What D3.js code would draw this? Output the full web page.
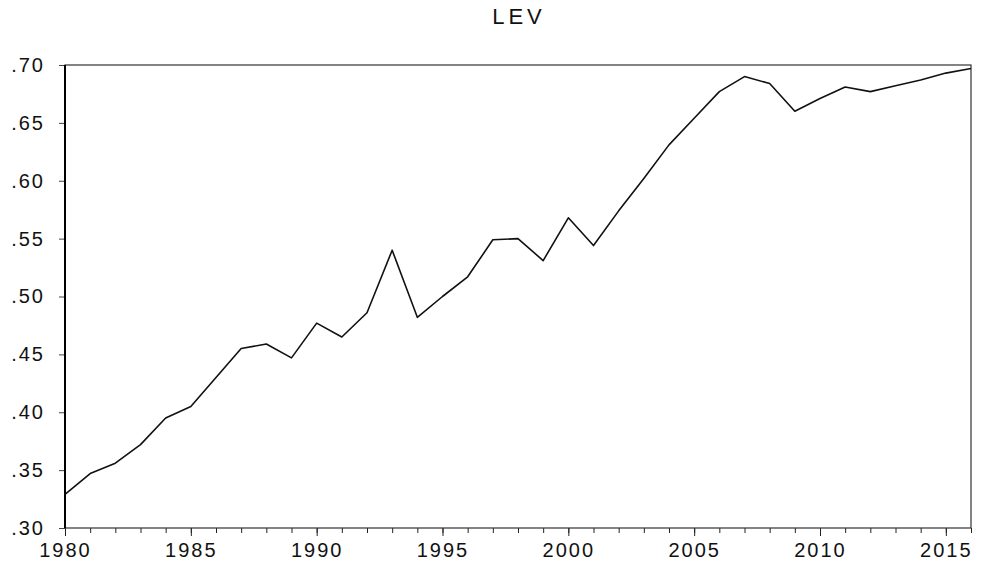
<!DOCTYPE html>
<html>
<head>
<meta charset="utf-8">
<script src="https://cdn.jsdelivr.net/npm/d3@7"></script>
<style>
  body { margin: 0; background: #fff; }
  svg text { font-family: "Liberation Sans", Arial, sans-serif; fill: #111; }
</style>
</head>
<body>
<div id="chart"></div>
<script>
// series LEV, one value per year
const years = d3.range(1980, 2017);
const lev = [
  0.329, 0.347, 0.356, 0.372, 0.395, 0.405, 0.430, 0.455, 0.459, 0.447,
  0.477, 0.465, 0.486, 0.540, 0.482, 0.500, 0.517, 0.549, 0.550, 0.531,
  0.568, 0.544, 0.574, 0.602, 0.631, 0.654, 0.677, 0.690, 0.684, 0.660,
  0.671, 0.681, 0.677, 0.682, 0.687, 0.693, 0.697
];
const yTicks = [0.30, 0.35, 0.40, 0.45, 0.50, 0.55, 0.60, 0.65, 0.70];
const xLabelYears = [1980, 1985, 1990, 1995, 2000, 2005, 2010, 2015];
const title = 'LEV';

const margin = { top: 65, right: 10, bottom: 44, left: 65 };
const width = 981 - margin.left - margin.right;
const height = 572 - margin.top - margin.bottom;
const labelSize = 20;

const svg = d3.select('#chart')
  .append('svg')
  .attr('width', 981)
  .attr('height', 572);

const g = svg.append('g').attr('transform', `translate(${margin.left}, ${margin.top})`);

const x = d3.scaleLinear().domain([1980, 2016]).range([0, width]);
const y = d3.scaleLinear().domain([0.30, 0.70]).range([height, 0]);

// title
svg.append('text')
  .attr('x', 519)
  .attr('y', 24)
  .attr('text-anchor', 'middle')
  .attr('font-size', 22)
  .attr('letter-spacing', 4)
  .text(title);

// minor year ticks
g.append('g')
  .attr('transform', `translate(0, ${height})`)
  .call(d3.axisBottom(x).tickValues(years).tickSize(5).tickFormat(''))
  .call(a => a.select('.domain').remove())
  .call(a => a.selectAll('line').attr('stroke', '#222'));

// major ticks with labels
const xAxis = g.append('g')
  .attr('transform', `translate(0, ${height})`)
  .call(d3.axisBottom(x).tickValues(xLabelYears).tickSize(8).tickPadding(7).tickFormat(d3.format('d')));
xAxis.attr('font-size', labelSize).attr('font-family', null);
xAxis.select('.domain').remove();
xAxis.selectAll('line').attr('stroke', '#222');
xAxis.selectAll('text').attr('font-size', labelSize).attr('letter-spacing', 2);

// y axis
const yAxis = g.append('g')
  .call(d3.axisLeft(y).tickValues(yTicks).tickSize(6).tickPadding(14)
    .tickFormat(d => d3.format('.2f')(d).replace(/^0/, '')));
yAxis.attr('font-size', labelSize).attr('font-family', null);
yAxis.select('.domain').remove();
yAxis.selectAll('line').attr('stroke', '#444');
yAxis.selectAll('text').attr('font-size', labelSize).attr('letter-spacing', 2);

// frame
g.append('rect')
  .attr('x', 0).attr('y', 0)
  .attr('width', width).attr('height', height)
  .attr('fill', 'none')
  .attr('stroke', '#333')
  .attr('stroke-width', 1.2);

g.append('line')
  .attr('x1', 0).attr('x2', 0)
  .attr('y1', 0).attr('y2', height)
  .attr('stroke', '#000')
  .attr('stroke-width', 2);

// series line
const line = d3.line()
  .x((d, i) => x(years[i]))
  .y(d => y(d));

g.append('path')
  .datum(lev)
  .attr('fill', 'none')
  .attr('stroke', '#111')
  .attr('stroke-width', 1.6)
  .attr('stroke-linejoin', 'round')
  .attr('d', line);
</script>
</body>
</html>
